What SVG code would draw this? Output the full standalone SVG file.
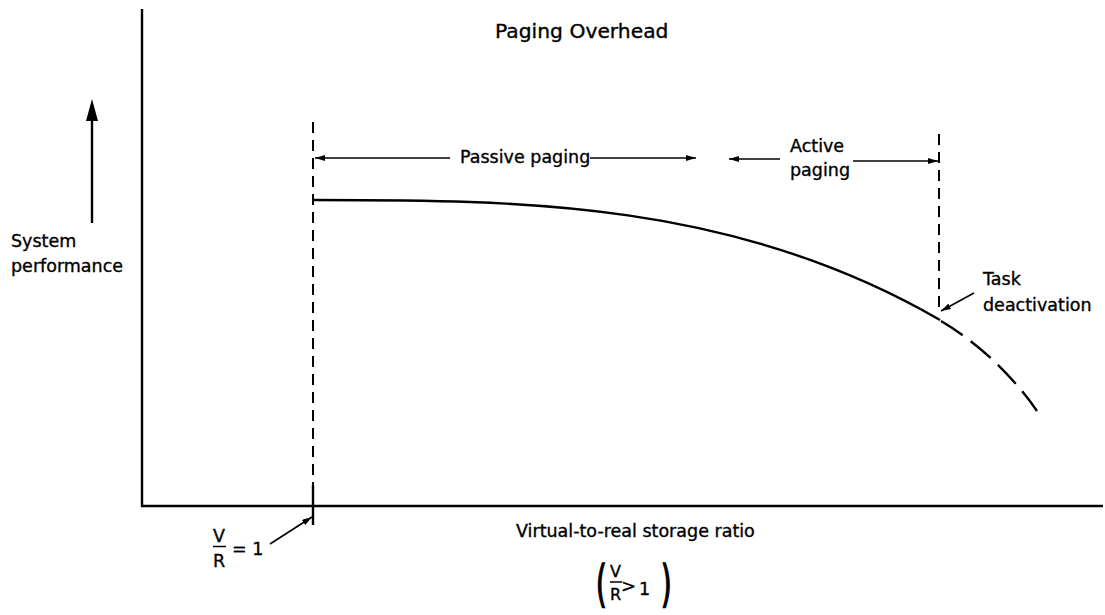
<svg xmlns="http://www.w3.org/2000/svg" width="1105" height="615" viewBox="0 0 1105 615">
<style>
text{font-family:"DejaVu Sans","Liberation Sans",sans-serif;fill:#000;stroke:#000;stroke-width:0.35}
.t{font-size:17.5px}
.ln{stroke:#000;fill:none;stroke-width:2.4}
.dv{stroke:#000;fill:none;stroke-width:2;stroke-dasharray:11 7}
.ar{stroke:#000;fill:none;stroke-width:1.6}
.par{font-size:34px;stroke-width:1.2}
</style>
<defs>
<marker id="ah" viewBox="0 0 10 6" refX="10" refY="3" markerWidth="10" markerHeight="6" markerUnits="userSpaceOnUse" orient="auto">
<path d="M0,0 L10,3 L0,6 Z" fill="#000"/>
</marker>
</defs>
<rect width="1105" height="615" fill="#fff"/>
<g id="axes">
<line class="ln" x1="142" y1="9" x2="142" y2="507"/>
<line class="ln" x1="141" y1="506" x2="1103" y2="506"/>
</g>
<g id="title"><text x="495" y="38" style="font-size:20.3px">Paging Overhead</text></g>
<g id="yaxis-label">
<line class="ln" x1="92" y1="223" x2="92" y2="112"/>
<path d="M92,99 L98,121 L86,121 Z" fill="#000"/>
<text class="t" x="11" y="247">System</text>
<text class="t" x="11" y="272">performance</text>
</g>
<g id="curve">
<path class="ln" d="M313,200 C522,200 735,201 940,320"/>
<path class="ln" style="stroke-dasharray:26 10" d="M941,321 C975,341 1010,372 1037,411"/>
</g>
<g id="left-boundary">
<line class="dv" x1="313" y1="122" x2="313" y2="485"/>
<line class="ln" x1="313" y1="485" x2="313" y2="525"/>
</g>
<g id="right-boundary">
<line class="dv" x1="939" y1="134" x2="939" y2="312"/>
</g>
<g id="passive">
<text class="t" x="460" y="163">Passive paging</text>
</g>
<g id="active">
<text class="t" x="790" y="152">Active</text>
<text class="t" x="790" y="176">paging</text>
</g>
<g id="task">
<text class="t" x="983" y="285">Task</text>
<text class="t" x="983" y="311">deactivation</text>
</g>
<g id="vr1">
<text class="t" x="213" y="542">V</text>
<line x1="213" y1="546.5" x2="226" y2="546.5" stroke="#000" stroke-width="1.5"/>
<text class="t" x="213" y="567">R</text>
<text class="t" x="232" y="555">= 1</text>
</g>
<g id="xaxis-label">
<text class="t" x="516" y="537">Virtual-to-real storage ratio</text>
<text class="par" transform="translate(596,601) scale(0.8,1.45)">(</text>
<text x="610" y="577" style="font-size:16px">V</text>
<line x1="610" y1="582" x2="622" y2="582" stroke="#000" stroke-width="1.5"/>
<text x="610" y="600" style="font-size:16px">R</text>
<text x="621" y="592" style="font-size:18px">&gt;</text>
<text class="t" x="639" y="595">1</text>
<text class="par" transform="translate(661,601) scale(0.8,1.45)">)</text>
</g>
<g id="connectors">
<line class="ar" x1="450" y1="158" x2="315" y2="158" marker-end="url(#ah)"/>
<line class="ar" x1="590" y1="158" x2="696" y2="158" marker-end="url(#ah)"/>
<line class="ar" x1="780" y1="159" x2="729" y2="159" marker-end="url(#ah)"/>
<line class="ar" x1="853" y1="161" x2="938" y2="161" marker-end="url(#ah)"/>
<line class="ar" x1="974" y1="293" x2="941" y2="311" marker-end="url(#ah)"/>
<line class="ar" x1="270" y1="544" x2="312" y2="517" marker-end="url(#ah)"/>
</g>
</svg>
